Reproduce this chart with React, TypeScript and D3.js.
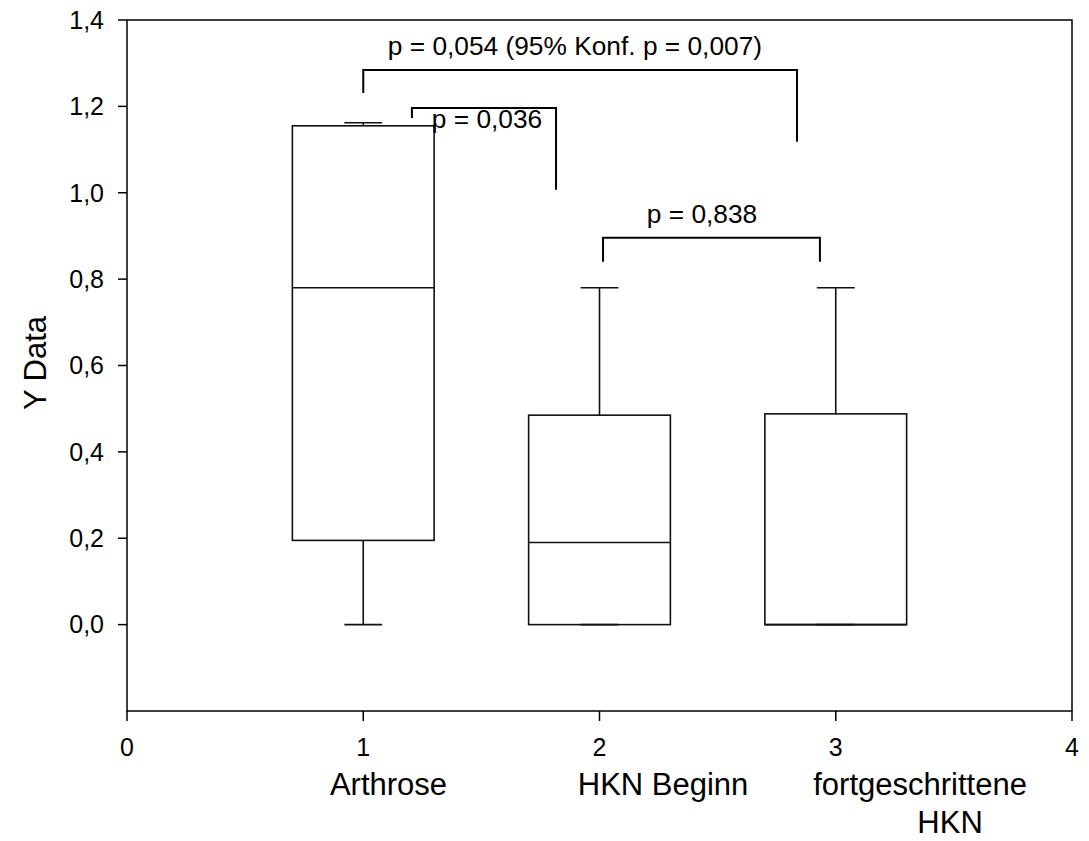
import React from "react";
import * as d3 from "d3";

// box plot values per group
const positions = [1, 2, 3];
const q1 = [0.195, 0, 0];
const medians = [0.78, 0.19, 0];
const q3 = [1.155, 0.485, 0.488];
const whiskerLow = [0, 0, 0];
const whiskerHigh = [1.162, 0.78, 0.78];

const yTicks = [0, 0.2, 0.4, 0.6, 0.8, 1.0, 1.2, 1.4];
const xTicks = [0, 1, 2, 3, 4];

// group labels below the axis (x in data units, one line each)
const groupLabels = ["Arthrose", "HKN Beginn", "fortgeschrittene", "HKN"];
const groupLabelX = [1.107, 2.269, 3.357, 3.484];
const groupLabelLine = [0, 0, 0, 1];

// significance brackets
const bracketX1 = [1, 1.206, 2.015];
const bracketX2 = [2.836, 1.816, 2.933];
const bracketTop = [1.284, 1.196, 0.896];
const bracketLeftEnd = [1.231, 1.173, 0.84];
const bracketRightEnd = [1.118, 1.007, 0.84];
const bracketLabels = ["p = 0,054 (95% Konf. p = 0,007)", "p = 0,036", "p = 0,838"];
const bracketLabelX = [1.896, 1.524, 2.434];
const bracketLabelY = [1.319, 1.15, 0.93];

const W = 1089;
const H = 841;
const left = 127, right = 1072, top = 20, bottom = 711;
const font = "'Liberation Sans', Arial, sans-serif";
const tickFs = 25;
const noteFs = 26.3;
const labelFs = 31;

export default function App() {
  const x = d3.scaleLinear().domain([0, 4]).range([left, right]);
  const y = d3.scaleLinear().domain([-0.2, 1.4]).range([bottom, top]);
  const fmt = (v: number) => d3.format(".1f")(v).replace(".", ",");
  const boxW = 0.6;
  const capW = 0.16;

  return (
    <div style={{ position: "absolute", left: 0, top: 0 }}>
      <svg width={W} height={H} style={{ display: "block", background: "#fff" }}>
        {/* frame */}
        <rect x={left} y={top} width={right - left} height={bottom - top}
          fill="none" stroke="#000" strokeWidth={1.5} />

        {/* y axis */}
        {yTicks.map(t => (
          <g key={"y" + t}>
            <line x1={left - 9} x2={left} y1={y(t)} y2={y(t)} stroke="#000" strokeWidth={1.5} />
            <text x={left - 23} y={y(t)} dy="0.35em" textAnchor="end"
              fontFamily={font} fontSize={tickFs}>{fmt(t)}</text>
          </g>
        ))}
        <text transform={`translate(46,${363}) rotate(-90)`}
          textAnchor="middle" fontFamily={font} fontSize={labelFs}>Y Data</text>

        {/* x axis */}
        {xTicks.map(t => (
          <g key={"x" + t}>
            <line x1={x(t)} x2={x(t)} y1={bottom} y2={bottom + 10} stroke="#000" strokeWidth={1.5} />
            <text x={x(t)} y={bottom + 45} textAnchor="middle"
              fontFamily={font} fontSize={tickFs}>{t}</text>
          </g>
        ))}
        {groupLabels.map((l, i) => (
          <text key={l + i} x={x(groupLabelX[i])} y={bottom + 84 + groupLabelLine[i] * 38}
            textAnchor="middle" fontFamily={font} fontSize={labelFs}>{l}</text>
        ))}

        {/* boxes */}
        {positions.map((p, i) => {
          const x0 = x(p - boxW / 2), x1 = x(p + boxW / 2);
          return (
            <g key={"b" + p} stroke="#111" strokeWidth={1.6} fill="none">
              <line x1={x(p)} x2={x(p)} y1={y(q3[i])} y2={y(whiskerHigh[i])} />
              <line x1={x(p)} x2={x(p)} y1={y(q1[i])} y2={y(whiskerLow[i])} />
              <line x1={x(p - capW / 2)} x2={x(p + capW / 2)} y1={y(whiskerHigh[i])} y2={y(whiskerHigh[i])} />
              <line x1={x(p - capW / 2)} x2={x(p + capW / 2)} y1={y(whiskerLow[i])} y2={y(whiskerLow[i])} />
              <rect x={x0} y={y(q3[i])} width={x1 - x0} height={y(q1[i]) - y(q3[i])} />
              <line x1={x0} x2={x1} y1={y(medians[i])} y2={y(medians[i])} />
            </g>
          );
        })}

        {/* brackets */}
        {bracketLabels.map((l, i) => (
          <g key={"br" + i}>
            <path
              d={`M${x(bracketX1[i])},${y(bracketLeftEnd[i])}V${y(bracketTop[i])}H${x(bracketX2[i])}V${y(bracketRightEnd[i])}`}
              fill="none" stroke="#000" strokeWidth={2} />
            <text x={x(bracketLabelX[i])} y={y(bracketLabelY[i])} textAnchor="middle"
              fontFamily={font} fontSize={noteFs}>{l}</text>
          </g>
        ))}
      </svg>
    </div>
  );
}
